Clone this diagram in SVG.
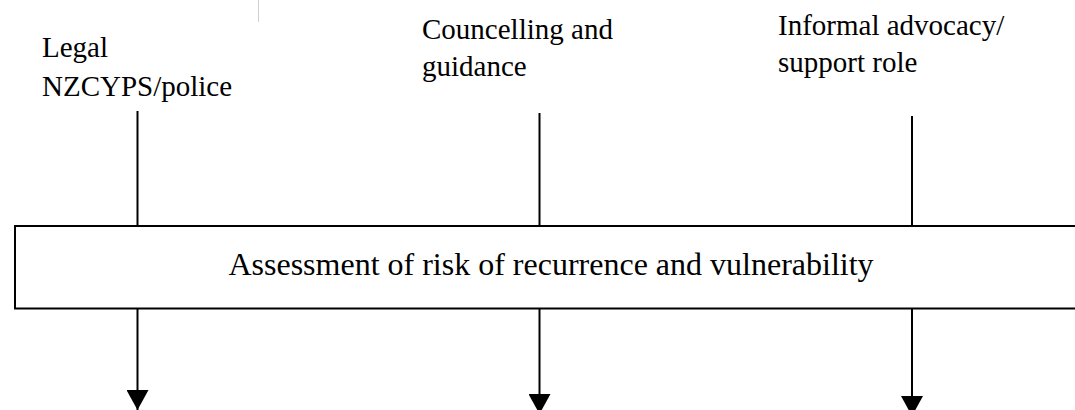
<svg xmlns="http://www.w3.org/2000/svg" width="1075" height="410" viewBox="0 0 1075 410">
  <style>
    .lbl { font-family: 'Liberation Serif', 'Times New Roman', 'DejaVu Serif', serif; font-size: 29px; fill: #000; }
    .big { font-size: 32px; }
    .ln { stroke: #000; stroke-width: 2; fill: none; }
    .box { stroke: #000; stroke-width: 2; fill: #fff; }
  </style>
  <defs>
    <!-- solid triangular arrowhead, drawn pointing along +x -->
    <marker id="head" viewBox="0 0 20 22" refX="20" refY="11" markerWidth="20" markerHeight="22" markerUnits="userSpaceOnUse" orient="auto">
      <path d="M0,0 L20,11 L0,22 Z" fill="#000"/>
    </marker>
  </defs>

  <!-- faint page rule at the top -->
  <line x1="258.5" y1="0" x2="258.5" y2="22" stroke="#cfcfcf" stroke-width="1"/>

  <g id="legal" font-family="Liberation Serif, serif">
    <text class="lbl" x="42" y="57">Legal</text>
    <text class="lbl" x="42" y="96">NZCYPS/police</text>
  </g>

  <g id="counselling" font-family="Liberation Serif, serif">
    <text class="lbl" x="422" y="39">Councelling and</text>
    <text class="lbl" x="422" y="76">guidance</text>
  </g>

  <g id="advocacy" font-family="Liberation Serif, serif">
    <text class="lbl" x="778" y="35">Informal advocacy/</text>
    <text class="lbl" x="778" y="72">support role</text>
  </g>

  <g id="connectors">
    <line class="ln" x1="137.5" y1="111" x2="137.5" y2="226"/>
    <line class="ln" x1="539.5" y1="113" x2="539.5" y2="226"/>
    <line class="ln" x1="912" y1="116" x2="912" y2="226"/>
    <line class="ln" x1="137.5" y1="308" x2="137.5" y2="410" marker-end="url(#head)"/>
    <line class="ln" x1="539.5" y1="308" x2="539.5" y2="414" marker-end="url(#head)"/>
    <line class="ln" x1="912" y1="308" x2="912" y2="416" marker-end="url(#head)"/>
  </g>

  <g id="assessment" font-family="Liberation Serif, serif">
    <rect class="box" x="15" y="226" width="1080" height="82.5"/>
    <text class="lbl big" x="551" y="275" text-anchor="middle">Assessment of risk of recurrence and vulnerability</text>
  </g>
</svg>
